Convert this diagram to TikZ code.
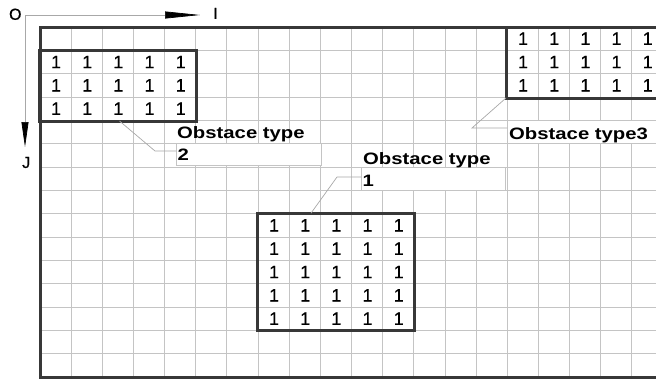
\documentclass[tikz,border=0pt]{standalone}
\usepackage{fontspec}
\setmainfont{Liberation Sans}
\newfontfamily\lblfont{Liberation Sans}[FakeStretch=1.23]
\newfontfamily\digfont{Liberation Sans}[FakeBold=0.5]
\usetikzlibrary{arrows.meta,calc}
\definecolor{framec}{HTML}{383838}
\definecolor{gridc}{HTML}{C4C4C4}
\definecolor{leadc}{HTML}{A8A8A8}
\begin{document}
\begin{tikzpicture}[x=1pt,y=-1pt,
  gridline/.style={draw=gridc,line width=0.9pt},
  framebox/.style={draw=framec,line width=3pt},
  obsbox/.style={draw=framec,line width=3pt,rectangle,inner sep=0pt,outer sep=0pt,minimum width=157pt},
  lblbox/.style={draw=gridc,fill=white,line width=0.9pt,rectangle,inner sep=0pt,outer sep=0pt,anchor=north west},
  dig/.style={inner sep=0pt,font=\digfont\fontsize{18}{19}\selectfont},
  lbltext/.style={inner sep=0pt,anchor=base west,font=\lblfont\bfseries\fontsize{16.5}{17}\selectfont},
  axlbl/.style={inner sep=0pt,font=\digfont\fontsize{16}{17}\selectfont},
  leader/.style={draw=leadc,line width=0.7pt},
  axis/.style={draw=leadc,line width=0.7pt}]
\useasboundingbox (0,0) rectangle (656,378);
\clip (0,0) rectangle (656,378);
\pgfmathsetmacro{\cw}{31.15}
\pgfmathsetmacro{\rh}{23.333}
% grid
\foreach \k in {1,...,19} \draw[gridline] ({40+\k*\cw},27) -- ({40+\k*\cw},377);
\foreach \k in {1,...,14} \draw[gridline] (40,{27+\k*\rh}) -- (664,{27+\k*\rh});
% label boxes
\node[lblbox,minimum width=145pt,minimum height=22pt] (lb2) at (176,143.67) {};
\node[lblbox,minimum width=144pt,minimum height=23.5pt] (lb1) at (361,167.3) {};
\node[lblbox,minimum width=160pt,minimum height=23.33pt] (lb3) at (507.25,120.33) {};
% obstacle boxes
\node[obsbox,anchor=north west,minimum height=71pt] (ob2) at (39,50) {};
\node[obsbox,anchor=north west,minimum height=117.5pt] (ob1) at (257.5,213.2) {};
\node[obsbox,anchor=north west,minimum height=71pt] (ob3) at (506,27) {};
% digits
\foreach \i in {0,...,4} \foreach \j in {0,...,2}
  \node[dig] (a-\i-\j) at ({40.5+(\i+0.5)*\cw},{50.33+(\j+0.5)*\rh}) {1};
\foreach \i in {0,...,4} \foreach \j in {0,...,4}
  \node[dig] (b-\i-\j) at ({258.5+(\i+0.5)*\cw},{213.67+(\j+0.5)*\rh}) {1};
\foreach \i in {0,...,4} \foreach \j in {0,...,2}
  \node[dig] (c-\i-\j) at ({507.5+(\i+0.5)*\cw},{27+(\j+0.5)*\rh}) {1};
% leaders
\coordinate (k2) at (155,151);
\coordinate (k1) at (337,177);
\coordinate (k3) at (472,128);
\draw[leader] ([xshift=2pt]ob2.south) -- (k2) -- (k2 -| lb2.west);
\draw[leader] ([xshift=-25pt]ob1.north) -- (k1) -- (k1 -| lb1.west);
\draw[leader] (ob3.south west) -- (k3) -- (k3 -| lb3.west);
% frame
\draw[framebox] (40,27) rectangle (663.25,377);
% label texts
\node[lbltext] (t2) at (177,138.5) {Obstace type};
\node[lbltext] (v2) at (177.5,160.5) {2};
\node[lbltext] (t1) at (363,164) {Obstace type};
\node[lbltext] (v1) at (362.5,186.5) {1};
\node[lbltext] (t3) at (509,139) {Obstace type3};
% axes
\coordinate (orig) at (25,15);
\coordinate (xtip) at (200,15);
\coordinate (ytip) at (25,147);
\draw[axis,-{Triangle[length=35pt,width=7pt,color=black,fill=black]}] (orig) -- (xtip);
\draw[axis,-{Triangle[length=25pt,width=7pt,color=black,fill=black]}] (orig) -- (ytip);
\node[axlbl] (lO) at (15.3,14.3) {O};
\node[axlbl] (lI) at (215.5,13.3) {I};
\node[axlbl] (lJ) at (26.2,162.5) {J};
\end{tikzpicture}
\end{document}
